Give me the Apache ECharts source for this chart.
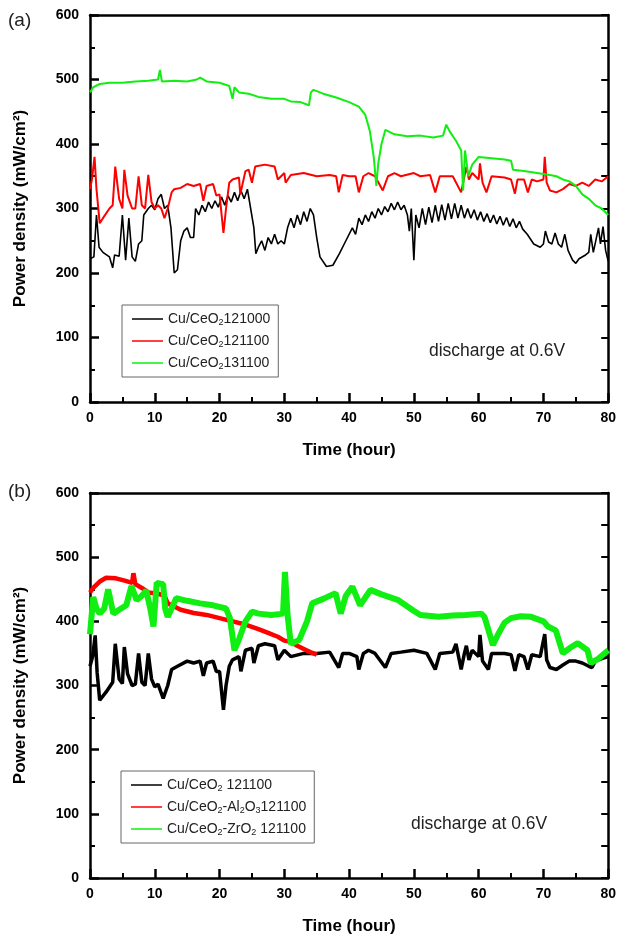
<!DOCTYPE html>
<html>
<head>
<meta charset="utf-8">
<script src="https://cdn.jsdelivr.net/npm/echarts@6/dist/echarts.min.js"></script>
<style>
html, body { margin: 0; padding: 0; background: #fff; }
#chart { width: 619px; height: 936px; }
</style>
</head>
<body>
<div id="chart"></div>
<script>
// panel (a) - discharge at 0.6V, [time (h), power density (mW/cm2)]
var a121000 = [[0,222],[0.6,225],[1.0,290],[1.4,240],[2.0,232],[3.0,225],[3.5,208],[3.8,228],[4.5,226],[5.0,290],[5.5,220],[6.0,285],[6.5,225],[7.0,218],[7.5,245],[8.0,250],[8.3,290],[9.0,300],[9.5,305],[10.0,298],[10.5,315],[11.0,322],[11.5,300],[12.0,305],[12.5,270],[13.0,200],[13.5,205],[14.0,250],[14.5,265],[15.0,270],[15.5,255],[16.0,255],[16.3,300],[16.8,290],[17.3,305],[17.8,295],[18.3,310],[18.8,300],[19.3,312],[19.8,302],[20.3,318],[20.8,305],[21.3,320],[21.8,310],[22.3,325],[22.8,312],[23.3,328],[23.8,315],[24.3,330],[24.8,300],[25.3,270],[25.6,230],[26.0,240],[26.5,250],[27.0,235],[27.5,255],[28.0,245],[28.5,260],[29.0,245],[29.5,250],[30.0,245],[30.5,270],[31.0,285],[31.5,270],[32.0,290],[32.5,275],[33.0,295],[33.5,280],[34.0,300],[34.5,290],[35.0,255],[35.5,225],[36.5,210],[37.5,212],[38.5,230],[39.5,250],[40.5,270],[41.0,260],[41.5,285],[42.0,275],[42.5,290],[43.0,280],[43.5,295],[44.0,285],[44.5,300],[45.0,290],[45.5,303],[46.0,295],[46.5,308],[47.0,298],[47.5,310],[48.0,298],[48.5,305],[49.0,290],[49.3,265],[49.6,300],[50.0,220],[50.3,290],[50.8,270],[51.3,300],[51.8,275],[52.3,302],[52.8,278],[53.3,305],[53.8,280],[54.3,306],[54.8,282],[55.3,308],[55.8,284],[56.3,308],[56.8,285],[57.3,305],[57.8,285],[58.3,300],[58.8,285],[59.3,298],[59.8,282],[60.3,295],[60.8,280],[61.3,292],[61.8,278],[62.3,290],[62.8,276],[63.3,288],[63.8,274],[64.3,286],[64.8,272],[65.3,284],[65.8,270],[66.3,280],[66.8,268],[67.5,260],[68.5,245],[69.5,240],[70.0,245],[70.3,265],[70.8,248],[71.3,245],[71.8,262],[72.3,245],[72.8,240],[73.3,260],[73.8,235],[74.5,220],[75.0,215],[75.5,222],[76.5,228],[77.0,232],[77.3,260],[77.7,232],[78.0,230],[78.5,270],[78.8,245],[79.2,272],[79.6,235],[80.0,218]];
var a121100 = [[0,330],[0.3,345],[0.7,380],[1.0,330],[1.5,277],[2.0,285],[3.0,300],[3.5,305],[3.9,365],[4.5,315],[5.0,300],[5.3,360],[5.8,320],[6.5,300],[7.0,300],[7.5,350],[8.0,305],[8.5,300],[9.0,352],[9.5,310],[10.0,300],[10.5,305],[11.0,300],[11.5,285],[12.0,300],[12.6,325],[13.0,330],[14.0,332],[15.0,338],[16.0,335],[17.0,338],[17.5,312],[18.0,335],[19.0,338],[19.5,320],[20.0,322],[20.6,262],[21.0,300],[21.5,340],[22.0,345],[23.0,348],[23.2,322],[24.0,358],[24.5,360],[25.0,340],[25.5,365],[27.0,368],[28.5,365],[29.0,345],[30.0,355],[30.2,340],[31.0,352],[33.0,355],[35.0,350],[37.0,352],[38.0,350],[38.4,325],[39.0,352],[40.0,350],[41.0,350],[41.5,325],[42.2,350],[43.0,355],[44.0,350],[45.2,328],[46.0,350],[47.0,355],[48.0,350],[50.0,355],[51.0,350],[52.5,352],[53.3,325],[54.0,350],[56.0,350],[57.3,325],[57.8,350],[58.1,365],[58.5,345],[59.0,355],[60.0,345],[60.2,370],[60.6,340],[61.2,325],[62.0,350],[64.0,348],[65.0,345],[65.6,323],[66.0,345],[67.0,345],[67.6,325],[68.2,345],[69.0,342],[70.0,345],[70.2,380],[70.5,340],[71.0,328],[72.0,325],[73.0,330],[74.0,338],[75.0,335],[76.0,340],[77.0,335],[78.0,345],[79.0,342],[80.0,350]];
var a131100 = [[0,480],[0.5,488],[1.5,493],[3.0,495],[5.0,495],[7.0,497],[9.0,498],[10.5,500],[10.8,515],[11.1,497],[13.0,498],[15.0,497],[16.5,500],[17.0,503],[18.0,497],[20.0,495],[21.5,490],[22.0,470],[22.3,488],[23.0,480],[24.5,478],[26.0,473],[28.0,470],[30.0,470],[31.0,466],[32.5,465],[33.8,460],[34.1,480],[34.5,484],[36.0,478],[38.0,472],[40.0,465],[41.5,458],[42.5,445],[43.2,420],[43.8,380],[44.2,335],[44.5,370],[45.0,400],[45.6,422],[47.0,415],[49.0,412],[51.0,413],[53.0,410],[54.5,413],[55.0,430],[55.5,420],[56.5,405],[57.3,390],[57.6,328],[57.9,390],[58.4,350],[59.0,368],[60.0,380],[62.0,378],[64.0,376],[65.0,374],[65.3,360],[67.0,358],[69.0,355],[71.0,352],[72.0,350],[73.0,345],[74.0,342],[75.0,335],[76.0,322],[77.0,315],[78.0,305],[79.0,300],[80.0,290]];

// panel (b)
var bCeO2 = [[0,330],[0.4,345],[0.8,378],[1.1,320],[1.5,277],[2.5,290],[3.5,305],[3.9,365],[4.5,310],[5.0,303],[5.3,360],[5.8,318],[6.5,300],[7.0,302],[7.5,350],[8.0,305],[8.5,300],[9.0,350],[9.5,310],[10.0,298],[10.5,302],[11.3,280],[12.0,300],[12.6,325],[13.5,330],[15.0,338],[16.0,335],[17.0,338],[17.5,315],[18.0,335],[19.0,338],[19.5,322],[20.0,322],[20.6,262],[21.0,300],[21.5,330],[22.0,340],[23.0,345],[23.3,322],[24.0,355],[25.0,358],[25.3,335],[26.0,362],[27.0,365],[28.5,362],[29.0,340],[30.0,355],[31.0,345],[33.0,350],[35.0,350],[37.0,352],[38.4,328],[39.0,350],[40.0,350],[41.2,345],[41.5,325],[42.2,350],[43.0,355],[44.0,350],[45.6,328],[46.5,350],[48.0,352],[50.0,355],[52.0,350],[53.3,325],[54.0,350],[56.0,352],[56.5,365],[57.3,325],[57.8,350],[58.1,362],[58.5,340],[59.0,355],[60.0,345],[60.2,379],[60.6,338],[61.5,325],[62.0,350],[64.0,350],[65.0,348],[65.6,323],[66.2,348],[67.0,345],[67.6,325],[68.2,348],[69.5,345],[70.2,380],[70.5,340],[71.0,328],[72.0,325],[73.0,332],[74.0,338],[75.0,338],[76.0,335],[77.0,330],[77.5,328],[78.0,338],[79.0,342],[80.0,345]];
var bAl2O3 = [[0,445],[0.5,452],[1.5,462],[2.5,468],[4.0,467],[5.5,463],[6.5,460],[6.7,475],[7.0,458],[8.0,452],[9.0,445],[10.5,443],[11.5,440],[12.0,428],[12.6,425],[14.0,418],[16.0,413],[18.0,410],[20.0,405],[22.0,400],[24.0,395],[26.0,388],[27.5,382],[29.0,376],[30.0,370],[31.0,368],[32.0,362],[33.0,357],[34.0,352],[35.0,348]];
var bZrO2 = [[0,380],[0.5,438],[1.0,420],[1.5,412],[2.2,420],[2.8,450],[3.6,412],[4.5,418],[5.6,425],[6.4,455],[7.2,433],[8.0,440],[8.7,448],[9.3,420],[9.8,392],[10.3,460],[11.3,458],[11.6,420],[12.0,407],[12.6,420],[13.3,436],[15.0,432],[17.0,428],[19.0,425],[21.0,420],[21.6,405],[22.3,355],[23.0,372],[24.0,400],[25.0,415],[26.0,412],[28.0,410],[29.8,412],[30.1,477],[30.5,410],[31.0,365],[32.3,371],[33.5,400],[34.3,428],[36.0,435],[37.9,444],[38.7,412],[39.5,440],[40.5,454],[41.7,425],[43.3,449],[45.0,442],[47.6,433],[49.9,417],[51.0,410],[53.8,407],[56.0,409],[58.0,410],[60.4,412],[60.9,407],[62.2,363],[63.0,380],[64.0,398],[65.0,405],[66.5,408],[68.1,407],[70.0,400],[70.7,392],[71.9,386],[73.0,350],[74.0,358],[75.3,366],[76.8,355],[77.3,335],[78.5,342],[80.0,355]];

var namesA = ['Cu/CeO2121000', 'Cu/CeO2121100', 'Cu/CeO2131100'];
var namesB = ['Cu/CeO2 121100', 'Cu/CeO2-Al2O3121100', 'Cu/CeO2-ZrO2 121100'];
var legendText = {
    'Cu/CeO2121000': 'Cu/CeO{s|2}121000',
    'Cu/CeO2121100': 'Cu/CeO{s|2}121100',
    'Cu/CeO2131100': 'Cu/CeO{s|2}131100',
    'Cu/CeO2 121100': 'Cu/CeO{s|2} 121100',
    'Cu/CeO2-Al2O3121100': 'Cu/CeO{s|2}-Al{s|2}O{s|3}121100',
    'Cu/CeO2-ZrO2 121100': 'Cu/CeO{s|2}-ZrO{s|2} 121100'
};

var FONT = 'Liberation Sans, Arial, sans-serif';
var GREEN = '#11ee11';

function xMain(gi) {
    return {
        type: 'value', gridIndex: gi, min: 0, max: 80, interval: 10,
        name: 'Time (hour)', nameLocation: 'middle', nameGap: 40,
        nameTextStyle: { fontFamily: FONT, fontWeight: 'bold', fontSize: 17, color: '#000' },
        axisLine: { onZero: false, lineStyle: { color: '#000', width: 2.5 } },
        axisTick: { inside: true, length: 9, lineStyle: { color: '#000', width: 2.5 } },
        minorTick: { show: true, splitNumber: 2, length: 5, lineStyle: { color: '#000', width: 2 } },
        axisLabel: { fontFamily: FONT, fontWeight: 'bold', fontSize: 14, color: '#000', margin: 9 },
        splitLine: { show: false }
    };
}
function xTop(gi) {
    return {
        type: 'value', gridIndex: gi, position: 'top', min: 0, max: 80,
        axisLine: { onZero: false, lineStyle: { color: '#000', width: 2.5 } },
        axisTick: { show: false }, axisLabel: { show: false }, splitLine: { show: false }
    };
}
function yMain(gi) {
    return {
        type: 'value', gridIndex: gi, min: 0, max: 600, interval: 100,
        name: 'Power density (mW/cm²)', nameLocation: 'middle', nameGap: 61,
        nameTextStyle: { fontFamily: FONT, fontWeight: 'bold', fontSize: 17, color: '#000' },
        axisLine: { onZero: false, lineStyle: { color: '#000', width: 2.5 } },
        axisTick: { inside: true, length: 9, lineStyle: { color: '#000', width: 2.5 } },
        minorTick: { show: true, splitNumber: 2, length: 5, lineStyle: { color: '#000', width: 2 } },
        axisLabel: { fontFamily: FONT, fontWeight: 'bold', fontSize: 14, color: '#000', margin: 11 },
        splitLine: { show: false }
    };
}
function yRight(gi) {
    return {
        type: 'value', gridIndex: gi, position: 'right', min: 0, max: 600, interval: 50,
        axisLine: { onZero: false, lineStyle: { color: '#000', width: 2.5 } },
        axisTick: { inside: true, length: 7, lineStyle: { color: '#000', width: 2 } },
        axisLabel: { show: false }, splitLine: { show: false }
    };
}
function line(name, data, color, width, xi, yi) {
    return {
        name: name, type: 'line', data: data, xAxisIndex: xi, yAxisIndex: yi,
        symbol: 'none', color: color, lineStyle: { color: color, width: width }
    };
}
function legendFor(names, left, top) {
    return {
        data: names, orient: 'vertical', left: left, top: top,
        icon: 'rect', itemWidth: 31, itemHeight: 1.5, itemGap: 6,
        borderColor: '#666', borderWidth: 1, padding: [6, 8, 6, 10],
        formatter: function (n) { return legendText[n]; },
        textStyle: {
            fontFamily: FONT, fontSize: 14, color: '#222', lineHeight: 16,
            rich: { s: { fontSize: 9, fontFamily: FONT, color: '#222', padding: [7, 0, 0, 0] } }
        }
    };
}
function txt(s, left, top, size) {
    return { type: 'text', left: left, top: top, style: { text: s, fontFamily: FONT, fontSize: size, fill: '#222' } };
}

var chart = echarts.init(document.getElementById('chart'));
chart.setOption({
    animation: false,
    backgroundColor: '#fff',
    grid: [
        { left: 90, top: 15, width: 521, height: 387 },
        { left: 90, top: 493, width: 521, height: 385 }
    ],
    xAxis: [xMain(0), xTop(0), xMain(1), xTop(1)],
    yAxis: [yMain(0), yRight(0), yMain(1), yRight(1)],
    legend: [legendFor(namesA, 122, 305), legendFor(namesB, 121, 771)],
    graphic: [
        txt('(a)', 8, 11, 19),
        txt('(b)', 8, 482, 19),
        txt('discharge at 0.6V', 429, 342, 17.5),
        txt('discharge at 0.6V', 411, 815, 17.5)
    ],
    series: [
        line(namesA[0], a121000, '#000', 1.6, 0, 0),
        line(namesA[1], a121100, '#ff0000', 2, 0, 0),
        line(namesA[2], a131100, GREEN, 2, 0, 0),
        line(namesB[0], bCeO2, '#000', 3.5, 2, 2),
        line(namesB[1], bAl2O3, '#ff0000', 4.5, 2, 2),
        line(namesB[2], bZrO2, GREEN, 6, 2, 2)
    ]
});
</script>
</body>
</html>
